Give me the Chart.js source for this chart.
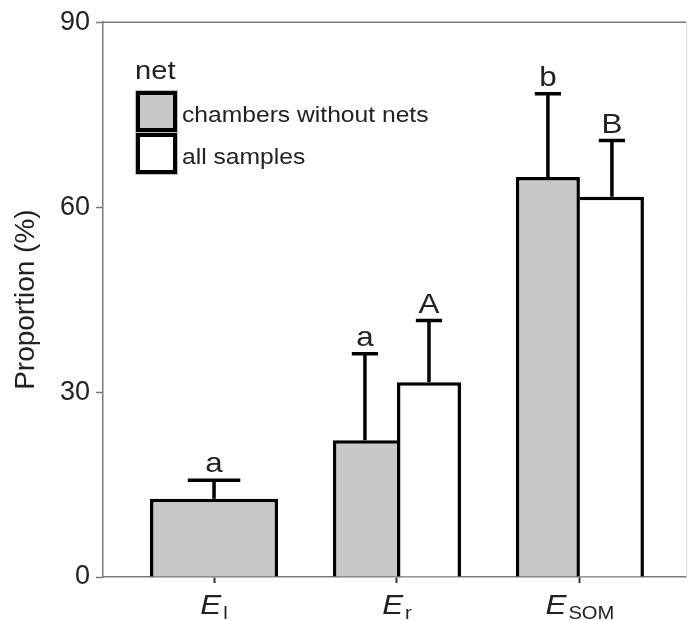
<!DOCTYPE html>
<html lang="en">
<head>
<meta charset="UTF-8">
<title>Proportion by net</title>
<script src="https://cdn.jsdelivr.net/npm/chart.js"></script>
<style>
  html, body { margin: 0; padding: 0; background: #fff; }
  #wrap { width: 689px; height: 621px; }
</style>
</head>
<body>
<div id="wrap"><canvas id="chart" width="689" height="621"></canvas></div>
<script>
// categories are E with a subscript
const categories = ['l', 'r', 'SOM'];
const positions = [1, 2, 3];
const chambersWithoutNets = [12.7, 22.2, 64.9];
const allSamples = [null, 31.6, 61.7];
const chambersErr = [3.0, 14.0, 13.5];
const allSamplesErr = [null, 10.0, 9.1];
const chambersLetters = ['a', 'a', 'b'];
const allSamplesLetters = ['', 'A', 'B'];
const yTicks = [0, 30, 60, 90];

const FONT = '"Liberation Sans", Arial, sans-serif';
const TEXT = '#222';
const AXIS = '#7a7a7a';
const GRAY = '#c8c8c8';
const STRETCH = 1.12;

function pts(values, errs, letters, keep) {
    const out = [];
    values.forEach((v, i) => {
        if (v == null || !keep(i)) return;
        out.push({ x: positions[i], y: v, err: errs[i], letter: letters[i], cat: i });
    });
    return out;
}

// E_l has only one (pooled) bar, drawn centred on the category
const pooled = i => allSamples[i] == null;
const paired = i => allSamples[i] != null;

function grayBorder(ctx) {
    const i = ctx.raw.cat;
    const taller = chambersWithoutNets[i] >= allSamples[i];
    return { left: 3.5, top: 3.5, right: taller ? 3.5 : 0, bottom: 0 };
}
function whiteBorder(ctx) {
    const i = ctx.raw.cat;
    const taller = allSamples[i] > chambersWithoutNets[i];
    return { left: taller ? 3.5 : 0, top: 3.5, right: 3.5, bottom: 0 };
}

function stretchedText(ctx, text, x, y, font, align) {
    ctx.save();
    ctx.font = font;
    ctx.textBaseline = 'alphabetic';
    ctx.textAlign = 'left';
    const w = ctx.measureText(text).width * STRETCH;
    let x0 = x;
    if (align === 'center') x0 = x - w / 2;
    if (align === 'right') x0 = x - w;
    ctx.translate(x0, y);
    ctx.scale(STRETCH, 1);
    ctx.fillText(text, 0, 0);
    ctx.restore();
    return w;
}

const errorBars = {
    id: 'errorBars',
    afterDatasetsDraw(chart) {
        const { ctx } = chart;
        const y = chart.scales.y;
        chart.data.datasets.forEach((ds, di) => {
            const meta = chart.getDatasetMeta(di);
            meta.data.forEach((bar, i) => {
                const p = ds.data[i];
                const top = y.getPixelForValue(p.y + p.err);
                const half = bar.width * 0.205;
                ctx.save();
                ctx.strokeStyle = '#000';
                ctx.lineWidth = 3.5;
                ctx.beginPath();
                ctx.moveTo(bar.x, bar.y);
                ctx.lineTo(bar.x, top);
                ctx.moveTo(bar.x - half, top);
                ctx.lineTo(bar.x + half, top);
                ctx.stroke();
                ctx.fillStyle = TEXT;
                stretchedText(ctx, p.letter, bar.x, top - 8, '28px ' + FONT, 'center');
                ctx.restore();
            });
        });
    }
};

const frameAndLabels = {
    id: 'frameAndLabels',
    afterDraw(chart) {
        const { ctx, chartArea: a } = chart;
        const x = chart.scales.x;
        ctx.save();
        // top frame line and faint right edge
        ctx.strokeStyle = AXIS;
        ctx.lineWidth = 1.5;
        ctx.beginPath();
        ctx.moveTo(a.left, a.top);
        ctx.lineTo(a.right, a.top);
        ctx.stroke();
        ctx.strokeStyle = '#dcdcdc';
        ctx.lineWidth = 1;
        ctx.beginPath();
        ctx.moveTo(a.right + 0.5, a.top);
        ctx.lineTo(a.right + 0.5, a.bottom);
        ctx.stroke();

        // x labels: italic E with upright subscript
        ctx.fillStyle = TEXT;
        const fE = 'italic 28px ' + FONT;
        const fS = '18px ' + FONT;
        categories.forEach((sub, i) => {
            const cx = x.getPixelForValue(positions[i]);
            ctx.font = fE;
            const wE = ctx.measureText('E').width * STRETCH;
            ctx.font = fS;
            const wS = ctx.measureText(sub).width * STRETCH;
            const start = cx - (wE + 2 + wS) / 2;
            stretchedText(ctx, 'E', start, 614, fE, 'left');
            stretchedText(ctx, sub, start + wE + 2, 619, fS, 'left');
        });

        // legend inside the plot
        stretchedText(ctx, 'net', 135, 79, '26px ' + FONT, 'left');
        const boxes = [
            { y: 91, fill: GRAY, label: 'chambers without nets' },
            { y: 133, fill: '#fff', label: 'all samples' }
        ];
        boxes.forEach(b => {
            ctx.strokeStyle = '#bdbdbd';
            ctx.lineWidth = 1;
            ctx.strokeRect(135.5, b.y - 0.5, 42, 42);
            ctx.fillStyle = '#000';
            ctx.fillRect(136, b.y, 41, 41);
            ctx.fillStyle = b.fill;
            ctx.fillRect(140, b.y + 4, 33, 33);
            ctx.fillStyle = TEXT;
            stretchedText(ctx, b.label, 182, b.y + 31, '22px ' + FONT, 'left');
        });
        ctx.restore();
    }
};

new Chart(document.getElementById('chart'), {
    type: 'bar',
    data: {
        datasets: [
            {
                label: 'chambers without nets',
                data: pts(chambersWithoutNets, chambersErr, chambersLetters, paired),
                backgroundColor: GRAY,
                borderColor: '#000',
                borderWidth: grayBorder,
                borderSkipped: false
            },
            {
                label: 'all samples',
                data: pts(allSamples, allSamplesErr, allSamplesLetters, paired),
                backgroundColor: '#fff',
                borderColor: '#000',
                borderWidth: whiteBorder,
                borderSkipped: false
            },
            {
                label: 'pooled',
                data: pts(chambersWithoutNets, chambersErr, chambersLetters, pooled),
                backgroundColor: GRAY,
                borderColor: '#000',
                borderWidth: { left: 3.5, top: 3.5, right: 3.5, bottom: 0 },
                borderSkipped: false,
                grouped: false
            }
        ]
    },
    options: {
        responsive: false,
        animation: false,
        devicePixelRatio: 1,
        categoryPercentage: 0.7,
        barPercentage: 1.0,
        layout: { padding: { top: 21, right: 3, left: 0, bottom: 0 } },
        plugins: {
            legend: { display: false },
            tooltip: { enabled: false }
        },
        scales: {
            x: {
                type: 'linear',
                min: 0.393,
                max: 3.58,
                offset: false,
                afterBuildTicks: s => { s.ticks = positions.map(v => ({ value: v })); },
                afterFit: s => { s.height = 44; },
                border: { display: true, color: AXIS, width: 1.5 },
                grid: { offset: false, drawOnChartArea: false, drawTicks: true, tickLength: 6, tickColor: '#333', tickWidth: 2 },
                ticks: { callback: () => '', autoSkip: false }
            },
            y: {
                min: 0,
                max: 90,
                afterBuildTicks: s => { s.ticks = yTicks.map(v => ({ value: v })); },
                afterFit: s => { s.width = 103; },
                border: { display: true, color: AXIS, width: 1.5 },
                grid: { drawOnChartArea: false, drawTicks: true, tickLength: 7, tickColor: AXIS, tickWidth: 1.5 },
                ticks: { color: TEXT, padding: 6, font: { family: FONT, size: 27 } },
                title: {
                    display: true,
                    text: 'Proportion (%)',
                    color: TEXT,
                    font: { family: FONT, size: 28 },
                    padding: { top: 9, bottom: 0 }
                }
            }
        }
    },
    plugins: [errorBars, frameAndLabels]
});
</script>
</body>
</html>
